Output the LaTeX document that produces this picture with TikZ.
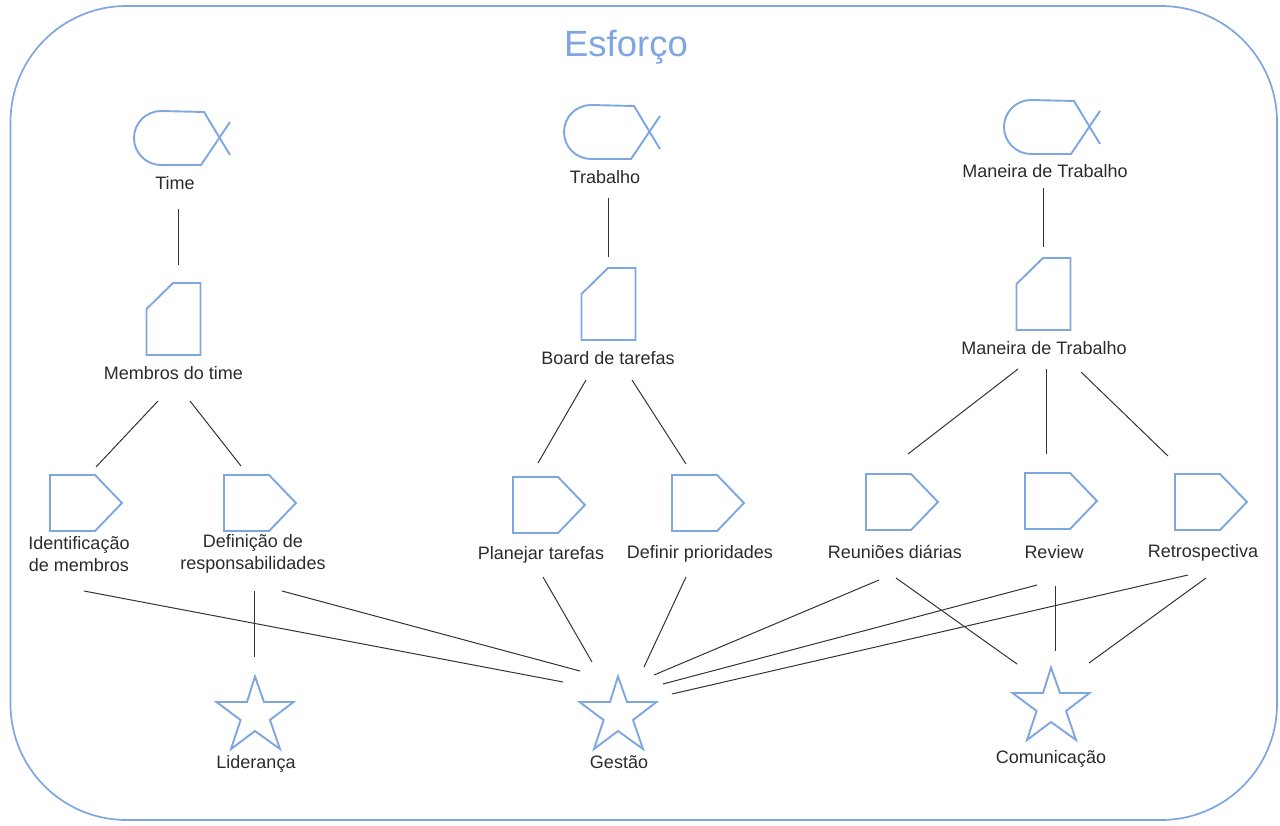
\documentclass[tikz,border=0pt]{standalone}
\usepackage{fontspec}
\setmainfont{Liberation Sans}
\definecolor{shapeblue}{HTML}{7EA6E0}
\definecolor{linkgrey}{HTML}{333333}
\definecolor{labelgrey}{HTML}{2B2B2B}
\tikzset{
  shapeline/.style={draw=shapeblue,line width=1.9pt,line join=miter},
  frameline/.style={draw=shapeblue,line width=1.7pt},
  link/.style={draw=linkgrey,line width=1pt},
  lbl/.style={text=labelgrey,font=\fontsize{18}{22}\selectfont,align=center,inner sep=0pt},
  titletext/.style={text=shapeblue,font=\fontsize{36.5}{44}\selectfont,inner sep=0pt},
  pics/fishshape/.style={code={
    \draw[shapeline] (161,111) -- (204,112) -- (230,155);
    \draw[shapeline] (230,122) -- (201,165) -- (161,165) arc[start angle=90,end angle=270,radius=27];
  }},
  pics/cutshape/.style={code={
    \draw[shapeline] (173,283) -- (200.5,283) -- (200.5,355) -- (146.5,355) -- (146.5,309) -- cycle;
  }},
  pics/tagshape/.style={code={
    \draw[shapeline] (50,475) -- (95,475) -- (122,503) -- (95,531) -- (50,531) -- cycle;
  }},
  pics/starshape/.style={code={
    \draw[shapeline] (255,676.5) -- (264,702) -- (293.5,702) -- (270,720) -- (280,749) -- (255,731)
      -- (231,749) -- (240.6,720) -- (216.5,702) -- (247,702) -- cycle;
  }},
}
\begin{document}
\begin{tikzpicture}[x=1pt,y=-1pt]
\useasboundingbox (0,0) rectangle (1280,826);
\draw[frameline,rounded corners=116pt] (10.5,6) rectangle (1277,820);
\node[titletext] (title) at (626,47) {Esforço};
% shapes
\pic at (0,0) {fishshape};
\pic at (430,-6) {fishshape};
\pic at (870,-11) {fishshape};
\pic at (0,0) {cutshape};
\pic at (435,-15) {cutshape};
\pic at (870,-25) {cutshape};
\pic at (0,0) {tagshape};
\pic at (174,0) {tagshape};
\pic at (463,2) {tagshape};
\pic at (622,0) {tagshape};
\pic at (816,-1) {tagshape};
\pic at (975,-2) {tagshape};
\pic at (1125,-1) {tagshape};
\pic at (0,0) {starshape};
\pic at (363,0) {starshape};
\pic at (796,-9) {starshape};
% labels
\node[lbl] (time) at (175,183) {Time};
\node[lbl] (trabalho) at (605,177) {Trabalho};
\node[lbl] (maneiraA) at (1045,171) {Maneira de Trabalho};
\node[lbl] (membros) at (173.5,373) {Membros do time};
\node[lbl] (board) at (608,358) {Board de tarefas};
\node[lbl] (maneiraB) at (1044,348) {Maneira de Trabalho};
\node[lbl] (ident) at (79,554) {Identificação\\de membros};
\node[lbl] (defin) at (253,554) {Definição de\\responsabilidades};
\node[lbl] (plan) at (541,555) {Planejar tarefas};
\node[lbl] (prior) at (700,554) {Definir prioridades};
\node[lbl] (reun) at (895,552) {Reuniões diárias};
\node[lbl] (review) at (1054,552) {Review};
\node[lbl] (retro) at (1203,553) {Retrospectiva};
\node[lbl] (lider) at (256,764) {Liderança};
\node[lbl] (gestao) at (619,762) {Gestão};
\node[lbl] (comun) at (1051,759) {Comunicação};
% connector ends
\foreach \n/\x/\y in {a1/178/209,a2/178/265,b1/608/198,b2/608/257,c1/1043/188,c2/1043/247,
  d1/158/401,d2/96/467,e1/190/401,e2/241/466,f1/586/380,f2/538/463,g1/632/380,g2/686/464,
  h1/1018/369,h2/908/454,i1/1046/369,i2/1046/454,j1/1081/372,j2/1168/456,
  k1/84/591,k2/563/682,l1/254/591,l2/254/657,m1/282/591,m2/580/671,n1/543/577,n2/592/662,
  o1/686/577,o2/644/667,p1/879/580,p2/654/675,q1/896/578,q2/1017/664,r1/1037/585,r2/663/684,
  s1/1055/586,s2/1055/651,t1/1188/575,t2/672/694,u1/1206/578,u2/1089/663}
  {\coordinate (\n) at (\x,\y);}
\foreach \n in {a,b,c,d,e,f,g,h,i,j,k,l,m,n,o,p,q,r,s,t,u}
  {\draw[link] (\n1) -- (\n2);}
\end{tikzpicture}
\end{document}
